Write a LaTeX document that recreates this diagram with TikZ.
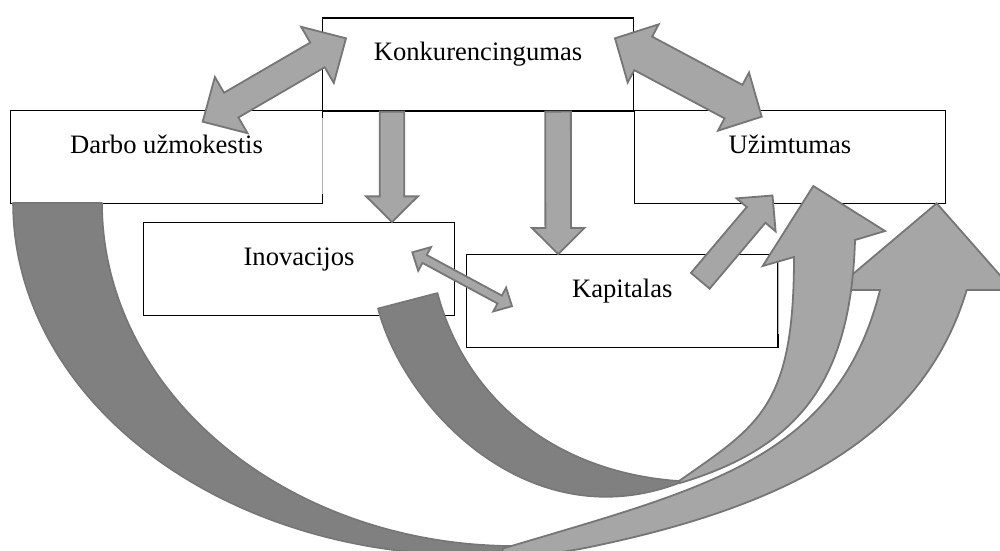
\documentclass[tikz,border=0pt]{standalone}
\usepackage{fontspec}
\setmainfont{Liberation Serif}
\usetikzlibrary{calc}

\definecolor{arrowfill}{RGB}{166,166,166}
\definecolor{arrowshade}{RGB}{128,128,128}
\definecolor{arrowedge}{RGB}{118,118,118}

\tikzset{
  box/.style={draw=black, line width=1.2pt, fill=white, inner sep=0pt,
              minimum width=311.5pt, minimum height=92.5pt},
  boxtext/.style={anchor=base, inner sep=0pt, font=\fontsize{26.6}{32}\selectfont},
  blockarrow/.style={fill=arrowfill, draw=arrowedge, line width=1.8pt, line join=miter},
  shadepart/.style={fill=arrowshade, draw=arrowedge, line width=1.6pt, line join=round},
  faintedge/.style={draw=black!30, line width=1.2pt},
}

% block arrow with a head at both ends:
% #1,#2 tips, #3 head length, #4 half head width, #5 half shaft width
\newcommand\doublearrow[5]{%
  \coordinate (da-m1) at ($(#1)!#3!(#2)$);
  \coordinate (da-m2) at ($(#2)!#3!(#1)$);
  \draw[blockarrow] (#1) -- ($(da-m1)!#4!90:(#2)$) -- ($(da-m1)!#5!90:(#2)$)
    -- ($(da-m2)!#5!-90:(#1)$) -- ($(da-m2)!#4!-90:(#1)$) -- (#2)
    -- ($(da-m2)!#4!90:(#1)$) -- ($(da-m2)!#5!90:(#1)$)
    -- ($(da-m1)!#5!-90:(#2)$) -- ($(da-m1)!#4!-90:(#2)$) -- cycle;}

% block arrow with one head: #1 tail centre, #2 tip, #3..#5 as above
\newcommand\singlearrow[5]{%
  \coordinate (sa-m) at ($(#2)!#3!(#1)$);
  \draw[blockarrow] ($(#1)!#5!90:(#2)$) -- ($(sa-m)!#5!90:(#2)$)
    -- ($(sa-m)!#4!90:(#2)$) -- (#2) -- ($(sa-m)!#4!-90:(#2)$)
    -- ($(sa-m)!#5!-90:(#2)$) -- ($(#1)!#5!-90:(#2)$) -- cycle;}

\begin{document}
\begin{tikzpicture}[x=1pt, y=-1pt]
\useasboundingbox (0,0) rectangle (1000,550);
\clip (0,0) rectangle (1000,550);

% boxes
\node[box, minimum height=93pt] (konk) at (478,64.5) {};
\node[box] (darbo) at (166.5,157) {};
\node[box] (uzim)  at (790,157) {};
\node[box] (inov)  at (299,268.9) {};
\node[box] (kap)   at (622.3,300.9) {};
\draw[faintedge] ($(darbo.north east)+(0,8)$) -- ($(darbo.south east)+(0,-10)$);
\draw[faintedge] ($(kap.north east)+(0,8)$) -- ($(kap.south east)+(0,-14)$);

\node[boxtext] (konk-t)  at ($(konk.north)+(0,43.5)$)  {Konkurencingumas};
\node[boxtext] (darbo-t) at ($(darbo.north)+(0,43.5)$) {Darbo užmokestis};
\node[boxtext] (uzim-t)  at ($(uzim.north)+(0,43.5)$)  {Užimtumas};
\node[boxtext] (inov-t)  at ($(inov.north)+(0,43.5)$)  {Inovacijos};
\node[boxtext] (kap-t)   at ($(kap.north)+(0,43.5)$)   {Kapitalas};

% large curved arrow: Darbo užmokestis -> Užimtumas
% shaded underside (two elliptic arcs)
\filldraw[shadepart]
  plot[domain=180:90, samples=70, variable=\t] ({470+457*cos(\t)}, {203+352*sin(\t)})
  -- (560,600)
  -- plot[domain=88:180, samples=70, variable=\t] ({515+413*cos(\t)}, {203+343*sin(\t)})
  -- cycle;
% rising band with head
\filldraw[blockarrow] (936.7,203.3) -- (1013,290) -- (966.7,290)
  .. controls (921.7,440) and (780,509) .. (580,549)
  -- (500,562) -- (503,548.5)
  .. controls (703,488.5) and (837.5,460) .. (880,290)
  -- (834,290) -- cycle;

% middle curved arrow: Inovacijos -> Užimtumas
\filldraw[shadepart] (378,308.5)
  .. controls (404,408.5) and (529,540) .. (679,483)
  -- (679,481)
  .. controls (549,471.9) and (463.5,393) .. (437.5,293) -- cycle;
\filldraw[blockarrow] (813.3,186) -- (885,231) -- (855,240)
  .. controls (850.8,380) and (800,447) .. (680,483)
  -- (679,481)
  .. controls (759,425) and (794,407) .. (794,257)
  -- (762.7,266) -- cycle;

% straight block arrows
\coordinate (kd-a) at (202.7,121.7);
\coordinate (kd-b) at (346,38.3);
\doublearrow{kd-a}{kd-b}{33pt}{32.5pt}{14.3pt}

\coordinate (ku-a) at (615,38.3);
\coordinate (ku-b) at (761.7,116.7);
\doublearrow{ku-a}{ku-b}{32pt}{33pt}{19pt}

\coordinate (ik-a) at (412.3,252.3);
\coordinate (ik-b) at (512,306.2);
\doublearrow{ik-a}{ik-b}{14pt}{13.5pt}{4.5pt}

\coordinate (ki-a) at ($(konk.south)+(-86,0)$);
\coordinate (ki-b) at ($(inov.north)+(93,0)$);
\singlearrow{ki-a}{ki-b}{25.7pt}{25.9pt}{12.2pt}

\coordinate (kk-a) at ($(konk.south)+(80,0)$);
\coordinate (kk-b) at ($(kap.north)+(-64,0)$);
\singlearrow{kk-a}{kk-b}{26pt}{26.2pt}{12.85pt}

\coordinate (ku2-a) at (700.3,280.8);
\coordinate (ku2-b) at (772.5,195.5);
\singlearrow{ku2-a}{ku2-b}{25.4pt}{25.6pt}{12.2pt}
\end{tikzpicture}
\end{document}
